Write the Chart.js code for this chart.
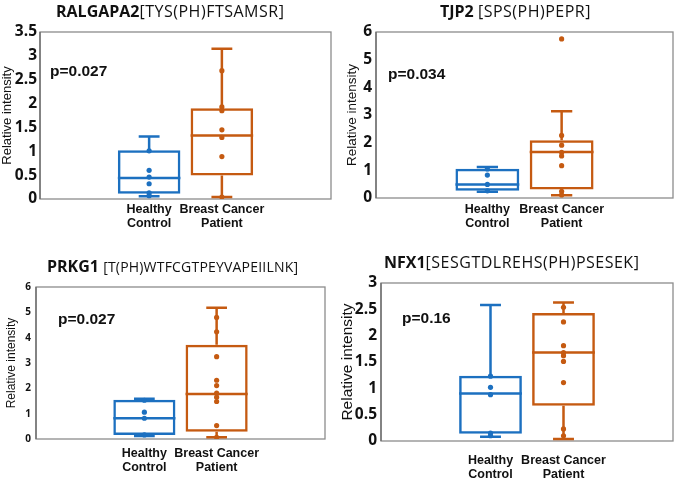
<!DOCTYPE html>
<html>
<head>
<meta charset="utf-8">
<script src="https://cdn.jsdelivr.net/npm/chart.js@4.4.1/dist/chart.umd.min.js"></script>
<style>
  body { margin: 0; background: #fff; }
  #wrap { position: relative; width: 677px; height: 481px; overflow: hidden; }
  canvas { position: absolute; }
  .ttl { position: absolute; white-space: nowrap; line-height: 20px; font-family: "Open Sans", sans-serif; font-size: 16px; color: #111; }
  .ttl b { font-weight: 700; }
  .ttl span { font-weight: 400; letter-spacing: 0.5px; }
  .pv { position: absolute; white-space: nowrap; font: bold 15.5px "Liberation Sans", Arial, sans-serif; line-height: 18px; color: #111; }
</style>
</head>
<body>
<div id="wrap">
  <canvas id="c1" width="338" height="240" style="left:0;top:0"></canvas>
  <canvas id="c2" width="339" height="240" style="left:338px;top:0"></canvas>
  <canvas id="c3" width="338" height="241" style="left:0;top:240px"></canvas>
  <canvas id="c4" width="339" height="241" style="left:338px;top:240px"></canvas>

  <div class="ttl" style="left:56px;top:1px"><b>RALGAPA2</b><span>[TYS(PH)FTSAMSR]</span></div>
  <div class="ttl" style="left:440px;top:1px"><b>TJP2</b> <span>[SPS(PH)PEPR]</span></div>
  <div class="ttl" style="left:47px;top:256px"><b>PRKG1</b> <span style="font-size:14px;letter-spacing:0.2px">[T(PH)WTFCGTPEYVAPEIILNK]</span></div>
  <div class="ttl" style="left:384px;top:252px"><b>NFX1</b><span>[SESGTDLREHS(PH)PSESEK]</span></div>

  <div class="pv" style="left:50px;top:62px">p=0.027</div>
  <div class="pv" style="left:388px;top:65px">p=0.034</div>
  <div class="pv" style="left:58px;top:310px">p=0.027</div>
  <div class="pv" style="left:402px;top:309px">p=0.16</div>
</div>
<script>
const groupLabels = [['Healthy', 'Control'], ['Breast Cancer', 'Patient']];
const groupPos = [1.5, 2.5];
const blue = '#1c70c0';
const orange = '#c55a11';

// box stats: [min, q1, median, q3, max]
const ralgapa2HealthyBox = [0.06, 0.11, 0.44, 1.02, 1.31];
const ralgapa2CancerBox = [0.04, 0.49, 1.33, 1.90, 3.15];
const ralgapa2HealthyPts = [1.01, 0.60, 0.46, 0.32, 0.13, 0.07];
const ralgapa2CancerPts = [2.69, 1.93, 1.85, 1.45, 1.29, 0.89, 0.04];

const tjp2HealthyBox = [0.23, 0.26, 0.49, 1.06, 1.12];
const tjp2CancerBox = [0.10, 0.31, 1.66, 2.09, 3.14];
const tjp2HealthyPts = [1.05, 0.83, 0.49, 0.26];
const tjp2CancerPts = [5.75, 2.26, 1.91, 1.65, 1.52, 1.17, 0.24, 0.11];

const prkg1HealthyBox = [0.12, 0.16, 0.82, 1.55, 1.59];
const prkg1CancerBox = [0.07, 0.29, 1.78, 3.72, 5.18];
const prkg1HealthyPts = [1.53, 1.06, 0.82, 0.16];
const prkg1CancerPts = [4.80, 4.23, 3.25, 2.32, 2.11, 1.81, 1.65, 1.48, 0.53, 0.07];

const nfx1HealthyBox = [0.08, 0.14, 0.90, 1.24, 2.58];
const nfx1CancerBox = [0.04, 0.67, 1.68, 2.43, 2.63];
const nfx1HealthyPts = [1.23, 1.02, 0.88, 0.15, 0.10];
const nfx1CancerPts = [2.54, 2.26, 1.81, 1.68, 1.62, 1.51, 1.11, 0.23, 0.10];

// whiskers, caps and median lines, drawn right after the box outlines
const boxPlugin = {
    id: 'boxPlugin',
    afterDatasetDraw(chart, args, opts) {
        if (args.index !== 0) return;
        const ctx = chart.ctx;
        const y = chart.scales.y;
        const bars = chart.getDatasetMeta(0).data;
        ctx.save();
        ctx.lineWidth = 2.5;
        opts.stats.forEach((s, i) => {
            const bar = bars[i];
            const half = bar.width / 2;
            const cap = bar.width / 6;
            ctx.strokeStyle = opts.colors[i];
            ctx.beginPath();
            // median
            ctx.moveTo(bar.x - half, y.getPixelForValue(s[2]));
            ctx.lineTo(bar.x + half, y.getPixelForValue(s[2]));
            // whiskers
            ctx.moveTo(bar.x, y.getPixelForValue(s[1]));
            ctx.lineTo(bar.x, y.getPixelForValue(s[0]));
            ctx.moveTo(bar.x, y.getPixelForValue(s[3]));
            ctx.lineTo(bar.x, y.getPixelForValue(s[4]));
            // caps
            ctx.moveTo(bar.x - cap, y.getPixelForValue(s[0]));
            ctx.lineTo(bar.x + cap, y.getPixelForValue(s[0]));
            ctx.moveTo(bar.x - cap, y.getPixelForValue(s[4]));
            ctx.lineTo(bar.x + cap, y.getPixelForValue(s[4]));
            ctx.stroke();
        });
        ctx.restore();
    },
    beforeDatasetsDraw(chart) {
        const {ctx, chartArea: a} = chart;
        ctx.save();
        ctx.strokeStyle = '#8c8c8c';
        ctx.lineWidth = 1.3;
        ctx.strokeRect(a.left, a.top, a.right - a.left, a.bottom - a.top);
        ctx.strokeStyle = '#6a6a6a';
        ctx.beginPath();
        ctx.moveTo(a.left, a.top);
        ctx.lineTo(a.left, a.bottom);
        ctx.stroke();
        ctx.restore();
    }
};

function makePanel(id, healthyBox, cancerBox, healthyPts, cancerPts, cfg) {
    const stats = [healthyBox, cancerBox];
    const colors = [blue, orange];
    new Chart(document.getElementById(id), {
        type: 'bar',
        data: {
            datasets: [{
                data: groupPos.map((x, i) => ({x: x, y: [stats[i][1], stats[i][3]]})),
                backgroundColor: 'rgba(255, 255, 255, 0)',
                borderColor: colors,
                borderWidth: 2.5,
                borderSkipped: false,
                barPercentage: 0.86,
                categoryPercentage: 1,
                order: 2
            }, {
                type: 'scatter',
                data: healthyPts.map(v => ({x: groupPos[0], y: v})),
                backgroundColor: blue,
                borderWidth: 0,
                pointRadius: 2.6,
                order: 0
            }, {
                type: 'scatter',
                data: cancerPts.map(v => ({x: groupPos[1], y: v})),
                backgroundColor: orange,
                borderWidth: 0,
                pointRadius: 2.6,
                order: 0
            }]
        },
        options: {
            responsive: false,
            animation: false,
            layout: {padding: {left: 0, right: cfg.right, top: cfg.top, bottom: 0}},
            plugins: {
                legend: {display: false},
                tooltip: {enabled: false},
                boxPlugin: {stats: stats, colors: colors}
            },
            scales: {
                x: {
                    type: 'linear',
                    min: 0,
                    max: 4,
                    offset: false,
                    grid: {display: false, drawTicks: false},
                    border: {display: false},
                    afterBuildTicks: s => { s.ticks = groupPos.map(v => ({value: v})); },
                    afterFit: s => { s.height = cfg.xHeight; },
                    ticks: {
                        autoSkip: false,
                        maxRotation: 0,
                        padding: cfg.xPad,
                        color: '#111',
                        font: {family: '"Liberation Sans", Arial, sans-serif', size: 12.5, weight: 'bold', lineHeight: 1.15},
                        callback: v => groupLabels[groupPos.indexOf(v)]
                    }
                },
                y: {
                    min: 0,
                    max: cfg.yMax,
                    grid: {display: false, drawTicks: false},
                    border: {display: false},
                    afterFit: s => { s.width = cfg.yWidth; },
                    ticks: {
                        stepSize: cfg.step,
                        padding: cfg.yPad,
                        color: '#111',
                        font: {family: '"Open Sans", sans-serif', size: cfg.tickSize, weight: 'bold'},
                        callback: v => String(Math.round(v * 10) / 10)
                    },
                    title: {
                        display: true,
                        text: 'Relative intensity',
                        color: '#111',
                        padding: {top: cfg.titlePad, bottom: 0},
                        font: {family: '"Liberation Sans", Arial, sans-serif', size: cfg.titleSize}
                    }
                }
            }
        },
        plugins: [boxPlugin]
    });
}

makePanel('c1', ralgapa2HealthyBox, ralgapa2CancerBox, ralgapa2HealthyPts, ralgapa2CancerPts,
    {yMax: 3.5, step: 0.5, tickSize: 15.5, titleSize: 13, titlePad: 0, yWidth: 40, yPad: 3, right: 7, top: 32, xHeight: 41, xPad: 3});
makePanel('c2', tjp2HealthyBox, tjp2CancerBox, tjp2HealthyPts, tjp2CancerPts,
    {yMax: 6, step: 1, tickSize: 15.5, titleSize: 13.5, titlePad: 6, yWidth: 38, yPad: 4, right: 4, top: 32, xHeight: 42, xPad: 4});
makePanel('c3', prkg1HealthyBox, prkg1CancerBox, prkg1HealthyPts, prkg1CancerPts,
    {yMax: 6, step: 1, tickSize: 10, titleSize: 12, titlePad: 4, yWidth: 36, yPad: 5, right: 13, top: 47, xHeight: 42, xPad: 7});
makePanel('c4', nfx1HealthyBox, nfx1CancerBox, nfx1HealthyPts, nfx1CancerPts,
    {yMax: 3, step: 0.5, tickSize: 15.5, titleSize: 15.5, titlePad: 0, yWidth: 43, yPad: 4, right: 3, top: 43, xHeight: 40, xPad: 12});
</script>
</body>
</html>
